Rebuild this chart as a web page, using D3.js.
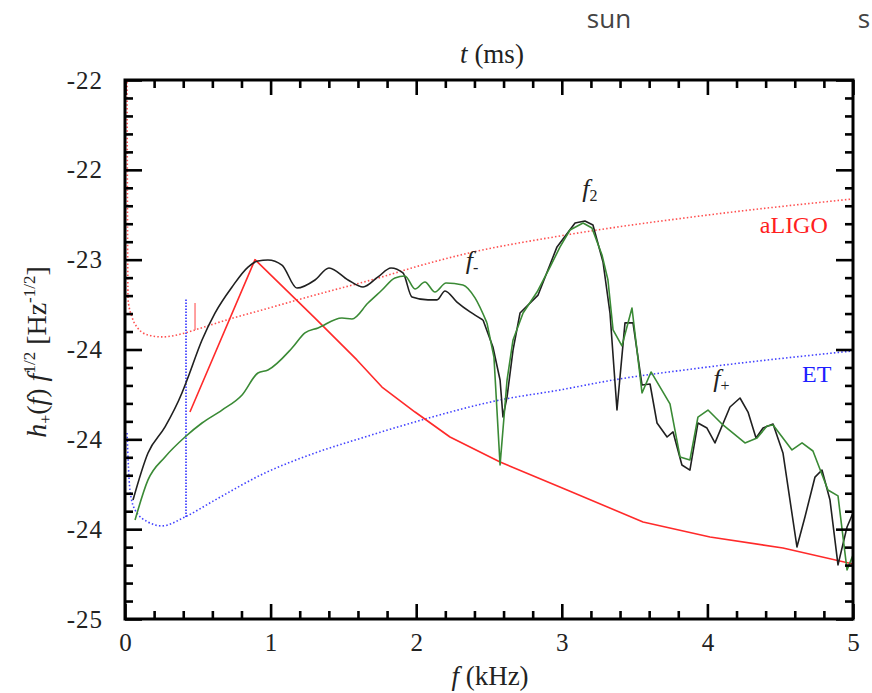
<!DOCTYPE html>
<html>
<head>
<meta charset="utf-8">
<script src="https://cdn.jsdelivr.net/npm/d3@7"></script>
<style>
  body { margin: 0; background: #fff; }
  svg { display: block; }
  .serif { font-family: "Liberation Serif", "DejaVu Serif", serif; }
</style>
</head>
<body>
<svg id="chart" width="872" height="693"></svg>
<script>
// Frequency axis (kHz) and log-strain axis
const xMajor = [0, 1, 2, 3, 4, 5];
const yMajor = [-25, -24.5, -24, -23.5, -23, -22.5, -22];
const yTickLabels = ["-25", "-24", "-24", "-24", "-23", "-22", "-22"];

// Simulated spectrum, full waveform (black): [f kHz, log10 h f^1/2]
const spectrumFull = [
  [0.055, -24.338], [0.158, -24.076], [0.275, -23.931], [0.391, -23.742], [0.426, -23.670],
  [0.529, -23.447], [0.618, -23.297], [0.735, -23.152], [0.845, -23.041], [0.913, -23.007],
  [0.982, -23.002], [1.078, -23.030], [1.181, -23.158], [1.305, -23.113], [1.401, -23.046],
  [1.532, -23.113], [1.635, -23.152], [1.738, -23.096], [1.827, -23.046], [1.909, -23.074],
  [1.971, -23.208], [2.081, -23.224], [2.143, -23.224], [2.198, -23.174], [2.280, -23.236],
  [2.370, -23.291], [2.459, -23.336], [2.527, -23.486], [2.576, -23.670], [2.596, -23.876],
  [2.624, -23.764], [2.665, -23.503], [2.713, -23.297], [2.837, -23.197], [2.967, -22.929],
  [3.091, -22.796], [3.159, -22.785], [3.214, -22.807], [3.283, -23.013], [3.331, -23.297],
  [3.379, -23.837], [3.434, -23.352], [3.489, -23.352], [3.551, -23.698], [3.606, -23.692],
  [3.654, -23.909], [3.723, -23.987], [3.764, -23.959], [3.825, -24.143], [3.880, -24.171],
  [3.935, -23.909], [3.997, -23.937], [4.052, -24.020], [4.155, -23.820], [4.224, -23.770],
  [4.279, -23.848], [4.334, -23.993], [4.382, -23.937], [4.451, -23.915], [4.519, -24.076],
  [4.615, -24.599], [4.670, -24.432], [4.739, -24.210], [4.787, -24.171], [4.842, -24.338],
  [4.897, -24.699], [4.959, -24.488], [5.000, -24.410]
];

// Post-merger spectrum (green)
const spectrumPost = [
  [0.069, -24.449], [0.158, -24.226], [0.275, -24.098], [0.412, -23.987], [0.529, -23.909],
  [0.666, -23.837], [0.804, -23.753], [0.913, -23.631], [0.982, -23.614], [1.147, -23.492],
  [1.236, -23.408], [1.326, -23.380], [1.490, -23.325], [1.559, -23.330], [1.669, -23.241],
  [1.765, -23.169], [1.854, -23.102], [1.923, -23.091], [1.992, -23.163], [2.060, -23.124],
  [2.129, -23.180], [2.205, -23.130], [2.321, -23.141], [2.404, -23.213], [2.486, -23.352],
  [2.534, -23.542], [2.576, -24.143], [2.624, -23.670], [2.665, -23.447], [2.734, -23.297],
  [2.830, -23.180], [2.919, -23.041], [2.988, -22.929], [3.056, -22.835], [3.146, -22.796],
  [3.207, -22.824], [3.276, -22.974], [3.317, -23.113], [3.352, -23.391], [3.413, -23.480],
  [3.482, -23.269], [3.551, -23.742], [3.613, -23.625], [3.743, -23.803], [3.812, -24.098],
  [3.880, -24.115], [3.935, -23.876], [4.004, -23.837], [4.107, -23.920], [4.258, -24.020],
  [4.341, -23.993], [4.409, -23.926], [4.451, -23.920], [4.581, -24.059], [4.650, -24.020],
  [4.725, -24.065], [4.828, -24.282], [4.897, -24.315], [4.959, -24.727], [5.000, -24.644]
];

// Inspiral (red)
const spectrumInspiral = [
  [0.446, -23.848], [0.893, -23.000], [1.305, -23.325], [1.593, -23.558], [1.765, -23.709],
  [1.992, -23.848], [2.232, -23.987], [2.576, -24.126], [3.036, -24.282], [3.558, -24.460],
  [4.018, -24.544], [4.519, -24.605], [5.000, -24.694]
];

// Detector sensitivity curves
const aLIGO = [
  [0.014, -22.011], [0.021, -23.224], [0.048, -23.319], [0.082, -23.375], [0.158, -23.419],
  [0.254, -23.430], [0.412, -23.408], [0.481, -23.391], [0.742, -23.325], [0.893, -23.291],
  [1.305, -23.197], [1.765, -23.096], [1.992, -23.041], [2.335, -22.968], [2.988, -22.868],
  [3.949, -22.757], [5.000, -22.662]
];
const ET = [
  [0.014, -23.965], [0.034, -24.282], [0.069, -24.393], [0.158, -24.460], [0.254, -24.482],
  [0.412, -24.432], [0.618, -24.338], [0.962, -24.187], [1.305, -24.076], [1.648, -23.987],
  [1.992, -23.903], [2.576, -23.781], [2.988, -23.725], [3.352, -23.670], [3.949, -23.603],
  [5.000, -23.508]
];

// Short vertical markers near the start of the post-merger signal
const markerET = [[0.419, -24.432], [0.419, -23.219]];
const markerLIGO = [[0.481, -23.391], [0.481, -23.241]];

// Below this frequency the spectra are drawn smoothed, above it segment by segment
const smoothUpTo = 2.5;

const svg = d3.select("#chart");
const M = { left: 125, right: 853, top: 80, bottom: 619 };

const x = d3.scaleLinear().domain([0, 5]).range([M.left, M.right]);
const y = d3.scaleLinear().domain([-25, -22]).range([M.bottom, M.top]);

const xMinor = d3.range(0, 5.001, 0.2).filter(v => Math.abs(v - Math.round(v)) > 1e-6);
const yMinor = d3.range(-25, -21.999, 0.1).filter(v => Math.abs(v * 2 - Math.round(v * 2)) > 1e-6);

const line = d3.line().x(d => x(d[0])).y(d => y(d[1]));
const smooth = d3.line().x(d => x(d[0])).y(d => y(d[1])).curve(d3.curveMonotoneX);

const plot = svg.append("g");
plot.append("clipPath").attr("id", "clip")
  .append("rect").attr("x", M.left).attr("y", M.top)
  .attr("width", M.right - M.left).attr("height", M.bottom - M.top);
const curves = plot.append("g").attr("clip-path", "url(#clip)");

// Detector noise curves
curves.append("path").attr("d", smooth(aLIGO))
  .attr("fill", "none").attr("stroke", "#ff3030").attr("stroke-width", 1.6)
  .attr("stroke-dasharray", "1.5,2.2").attr("opacity", 0.85);
curves.append("path").attr("d", smooth(ET))
  .attr("fill", "none").attr("stroke", "#2020ff").attr("stroke-width", 1.6)
  .attr("stroke-dasharray", "1.5,2.2").attr("opacity", 0.85);
curves.append("path").attr("d", line(markerET))
  .attr("fill", "none").attr("stroke", "#2020ff").attr("stroke-width", 1.5)
  .attr("stroke-dasharray", "1.5,1.5");
curves.append("path").attr("d", line(markerLIGO))
  .attr("fill", "none").attr("stroke", "#ff8080").attr("stroke-width", 1.5);

// Signal spectra
curves.append("path").attr("d", line(spectrumInspiral))
  .attr("fill", "none").attr("stroke", "#ff2a2a").attr("stroke-width", 1.6)
  .attr("stroke-linejoin", "round");

function drawSpectrum(data, color) {
  const lo = data.filter(d => d[0] <= smoothUpTo);
  const hi = data.filter(d => d[0] >= lo[lo.length - 1][0]);
  curves.append("path").attr("d", smooth(lo))
    .attr("fill", "none").attr("stroke", color).attr("stroke-width", 1.6);
  curves.append("path").attr("d", line(hi))
    .attr("fill", "none").attr("stroke", color).attr("stroke-width", 1.6)
    .attr("stroke-linejoin", "round");
}
drawSpectrum(spectrumFull, "#202020");
drawSpectrum(spectrumPost, "#3a8a35");

// Axes with inward ticks on all four sides
function styleAxis(g) {
  g.select(".domain").remove();
  g.selectAll(".tick line").attr("stroke", "#000").attr("stroke-width", 2.6);
  g.selectAll(".tick text").attr("class", "serif").attr("font-size", 25).attr("fill", "#222");
}
svg.append("g").attr("transform", `translate(0,${M.bottom})`)
  .call(d3.axisBottom(x).tickValues(xMajor).tickFormat(d3.format("d")).tickSize(-15).tickPadding(14))
  .call(styleAxis);
svg.append("g").attr("transform", `translate(0,${M.bottom})`)
  .call(d3.axisBottom(x).tickValues(xMinor).tickFormat("").tickSize(-8)).call(styleAxis);
svg.append("g").attr("transform", `translate(0,${M.top})`)
  .call(d3.axisTop(x).tickValues(xMajor).tickFormat("").tickSize(-15)).call(styleAxis);
svg.append("g").attr("transform", `translate(0,${M.top})`)
  .call(d3.axisTop(x).tickValues(xMinor).tickFormat("").tickSize(-8)).call(styleAxis);
svg.append("g").attr("transform", `translate(${M.left},0)`)
  .call(d3.axisLeft(y).tickValues(yMajor).tickFormat((d, i) => yTickLabels[i]).tickSize(-17).tickPadding(22))
  .call(styleAxis)
  .call(g => g.selectAll(".tick text").attr("letter-spacing", 1));
svg.append("g").attr("transform", `translate(${M.left},0)`)
  .call(d3.axisLeft(y).tickValues(yMinor).tickFormat("").tickSize(-8)).call(styleAxis);
svg.append("g").attr("transform", `translate(${M.right},0)`)
  .call(d3.axisRight(y).tickValues(yMajor).tickFormat("").tickSize(-17)).call(styleAxis);
svg.append("g").attr("transform", `translate(${M.right},0)`)
  .call(d3.axisRight(y).tickValues(yMinor).tickFormat("").tickSize(-8)).call(styleAxis);

svg.append("rect").attr("x", M.left).attr("y", M.top)
  .attr("width", M.right - M.left).attr("height", M.bottom - M.top)
  .attr("fill", "none").attr("stroke", "#000").attr("stroke-width", 3);

// Axis titles
const bottomTitle = svg.append("text").attr("class", "serif").attr("font-size", 27)
  .attr("fill", "#222").attr("x", 490).attr("y", 685).attr("text-anchor", "middle");
bottomTitle.append("tspan").attr("font-style", "italic").text("f");
bottomTitle.append("tspan").text(" (kHz)");

const topTitle = svg.append("text").attr("class", "serif").attr("font-size", 27)
  .attr("fill", "#222").attr("x", 492).attr("y", 63).attr("text-anchor", "middle");
topTitle.append("tspan").attr("font-style", "italic").text("t");
topTitle.append("tspan").text(" (ms)");

const yTitle = svg.append("text").attr("class", "serif").attr("font-size", 28)
  .attr("fill", "#222").attr("text-anchor", "middle")
  .attr("transform", "translate(46,352) rotate(-90)");
yTitle.append("tspan").attr("font-style", "italic").text("h");
yTitle.append("tspan").attr("font-size", 16).attr("dy", 5).text("+");
yTitle.append("tspan").attr("dy", -5).text("(");
yTitle.append("tspan").attr("font-style", "italic").text("f");
yTitle.append("tspan").text(") ");
yTitle.append("tspan").attr("font-style", "italic").text("f");
yTitle.append("tspan").attr("font-size", 17).attr("dy", -11).text("1/2");
yTitle.append("tspan").attr("dy", 11).text(" [Hz");
yTitle.append("tspan").attr("font-size", 17).attr("dy", -11).text("-1/2");
yTitle.append("tspan").attr("dy", 11).text("]");

// Frequency peak annotations
function peakLabel(f, v, sub) {
  const t = svg.append("text").attr("class", "serif").attr("font-size", 26)
    .attr("fill", "#222").attr("x", x(f)).attr("y", y(v));
  t.append("tspan").attr("font-style", "italic").text("f");
  t.append("tspan").attr("font-size", 16).attr("dy", 4).text(sub);
}
peakLabel(2.34, -23.05, "-");
peakLabel(3.14, -22.65, "2");
peakLabel(4.04, -23.71, "+");

svg.append("text").attr("class", "serif").attr("font-size", 24).attr("fill", "#ff2020")
  .attr("x", x(4.36)).attr("y", y(-22.85)).text("aLIGO");
svg.append("text").attr("class", "serif").attr("font-size", 24).attr("fill", "#2020ff")
  .attr("x", x(4.65)).attr("y", y(-23.68)).text("ET");

// Header text
svg.append("text").attr("font-family", "'Open Sans', sans-serif").attr("font-size", 26)
  .attr("fill", "#444").attr("x", 609).attr("y", 28).attr("text-anchor", "middle").text("sun");
svg.append("text").attr("font-family", "'Open Sans', sans-serif").attr("font-size", 26)
  .attr("fill", "#444").attr("x", 864).attr("y", 28).attr("text-anchor", "middle").text("s");
</script>
</body>
</html>
